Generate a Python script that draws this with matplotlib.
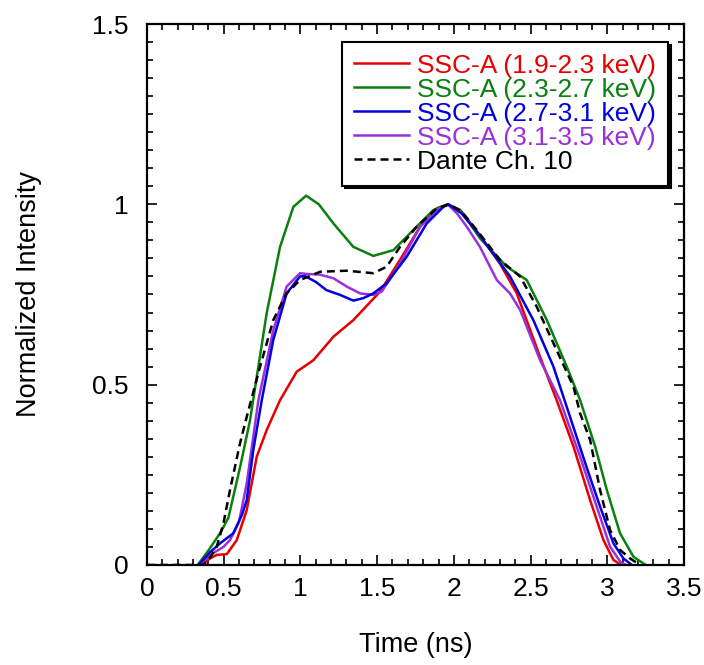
import matplotlib
matplotlib.use("Agg")
import matplotlib.pyplot as plt
from matplotlib.ticker import MultipleLocator

plt.rcParams['font.family'] = ['Liberation Sans', 'DejaVu Sans']

# SSC-A 1.9-2.3 keV
t_red = [0.357, 0.41, 0.454, 0.52, 0.585, 0.65, 0.715, 0.78, 0.867, 0.976, 1.085, 1.215,
         1.345, 1.519, 1.649, 1.78, 1.889, 1.96, 2.04, 2.127, 2.30, 2.41, 2.562, 2.67,
         2.78, 2.888, 2.975, 3.04, 3.09]
v_red = [0.0, 0.018, 0.028, 0.03, 0.069, 0.152, 0.30, 0.374, 0.457, 0.536, 0.568, 0.633,
         0.679, 0.758, 0.846, 0.938, 0.989, 1.0, 0.985, 0.938, 0.836, 0.753, 0.577, 0.457,
         0.328, 0.18, 0.069, 0.014, 0.0]

# SSC-A 2.3-2.7 keV
t_green = [0.33, 0.40, 0.476, 0.53, 0.606, 0.671, 0.78, 0.867, 0.954, 1.037, 1.12, 1.215,
           1.345, 1.475, 1.606, 1.736, 1.866, 1.96, 2.05, 2.17, 2.345, 2.475, 2.606, 2.736,
           2.823, 2.92, 2.997, 3.083, 3.17, 3.25]
v_green = [0.0, 0.04, 0.088, 0.13, 0.27, 0.40, 0.698, 0.882, 0.993, 1.024, 1.0, 0.947,
           0.882, 0.857, 0.873, 0.929, 0.984, 1.0, 0.98, 0.906, 0.827, 0.79, 0.679, 0.55,
           0.457, 0.33, 0.208, 0.088, 0.023, 0.0]

# SSC-A 2.7-3.1 keV
t_blue = [0.335, 0.41, 0.476, 0.563, 0.62, 0.65, 0.693, 0.748, 0.823, 0.91, 0.997, 1.03,
          1.10, 1.17, 1.258, 1.345, 1.41, 1.475, 1.562, 1.693, 1.823, 1.932, 1.965, 2.05,
          2.16, 2.366, 2.518, 2.649, 2.757, 2.866, 2.953, 3.04, 3.105, 3.16]
v_blue = [0.0, 0.035, 0.06, 0.088, 0.14, 0.18, 0.319, 0.457, 0.624, 0.753, 0.80, 0.801,
          0.785, 0.762, 0.749, 0.733, 0.74, 0.753, 0.781, 0.855, 0.947, 0.993, 1.0, 0.975,
          0.919, 0.80, 0.679, 0.55, 0.411, 0.27, 0.162, 0.06, 0.018, 0.0]

# SSC-A 3.1-3.5 keV
t_purple = [0.34, 0.42, 0.498, 0.541, 0.60, 0.65, 0.726, 0.823, 0.91, 0.997, 1.04, 1.128,
            1.215, 1.302, 1.389, 1.475, 1.53, 1.649, 1.78, 1.889, 1.96, 2.02, 2.084, 2.17,
            2.28, 2.366, 2.432, 2.562, 2.692, 2.823, 2.931, 3.018, 3.083, 3.12]
v_purple = [0.0, 0.03, 0.05, 0.069, 0.12, 0.226, 0.457, 0.651, 0.772, 0.809, 0.807, 0.805,
            0.795, 0.772, 0.753, 0.749, 0.758, 0.836, 0.938, 0.984, 1.0, 0.975, 0.938, 0.882,
            0.79, 0.753, 0.707, 0.568, 0.457, 0.30, 0.162, 0.051, 0.01, 0.0]

# Dante channel 10
t_dante = [0.0, 0.367, 0.41, 0.454, 0.498, 0.541, 0.606, 0.65, 0.737, 0.823, 0.91, 0.997,
           1.128, 1.302, 1.475, 1.562, 1.649, 1.758, 1.889, 1.97, 2.05, 2.149, 2.30, 2.432,
           2.54, 2.649, 2.78, 2.823, 2.888, 2.953, 3.018, 3.083, 3.149, 3.214]
v_dante = [0.0, 0.0, 0.02, 0.05, 0.115, 0.208, 0.337, 0.411, 0.55, 0.679, 0.753, 0.79,
           0.813, 0.816, 0.809, 0.827, 0.882, 0.938, 0.989, 1.0, 0.98, 0.929, 0.846, 0.80,
           0.716, 0.615, 0.494, 0.42, 0.347, 0.208, 0.097, 0.042, 0.018, 0.0]

labels = ["SSC-A (1.9-2.3 keV)", "SSC-A (2.3-2.7 keV)", "SSC-A (2.7-3.1 keV)",
          "SSC-A (3.1-3.5 keV)", "Dante Ch. 10"]
colors = ["#e60000", "#0a8010", "#0000e0", "#9a30dc", "black"]

x_ticks = [0, 0.5, 1, 1.5, 2, 2.5, 3, 3.5]
x_ticklabels = ["0", "0.5", "1", "1.5", "2", "2.5", "3", "3.5"]
y_ticks = [0, 0.5, 1, 1.5]
y_ticklabels = ["0", "0.5", "1", "1.5"]

fig = plt.figure(figsize=(7.04, 6.65), dpi=100)
ax = fig.add_axes([0.2088, 0.1504, 0.7628, 0.8135])

lw = 1.8
ax.plot(t_red, v_red, color=colors[0], lw=lw, label=labels[0])
ax.plot(t_green, v_green, color=colors[1], lw=lw, label=labels[1])
ax.plot(t_purple, v_purple, color=colors[3], lw=lw, label=labels[3])
ax.plot(t_blue, v_blue, color=colors[2], lw=lw, label=labels[2])
ax.plot(t_dante, v_dante, color=colors[4], lw=lw, dashes=(3.2, 2), label=labels[4])

ax.set_xlim(0, 3.5)
ax.set_ylim(0, 1.5)
ax.set_xticks(x_ticks)
ax.set_xticklabels(x_ticklabels)
ax.set_yticks(y_ticks)
ax.set_yticklabels(y_ticklabels)
ax.xaxis.set_minor_locator(MultipleLocator(0.1))
ax.yaxis.set_minor_locator(MultipleLocator(0.05))

ax.tick_params(which="both", direction="in", top=True, right=True, width=1.2)
ax.tick_params(which="major", length=7, labelsize=19)
ax.tick_params(axis="x", which="major", pad=9)
ax.tick_params(axis="y", which="major", pad=13)
ax.tick_params(which="minor", length=4)
for s in ax.spines.values():
    s.set_linewidth(1.6)

ax.set_xlabel("Time (ns)", fontsize=19.5, labelpad=22)
ax.set_ylabel("Normalized Intensity", fontsize=19.5, labelpad=36)

h, l = ax.get_legend_handles_labels()
order = [0, 1, 3, 2, 4]
leg = ax.legend([h[i] for i in order], [l[i] for i in order],
                loc="upper right", bbox_to_anchor=(0.970, 0.967), borderaxespad=0,
                fontsize=19, fancybox=False, shadow={"color": "black", "alpha": 1.0},
                edgecolor="black", framealpha=1, handlelength=2.1, handletextpad=0.3,
                labelspacing=0.0, borderpad=0.45)
leg.get_frame().set_linewidth(1.5)
for txt, c in zip(leg.get_texts(), colors):
    txt.set_color(c)

fig.savefig("out.png", dpi=100)
